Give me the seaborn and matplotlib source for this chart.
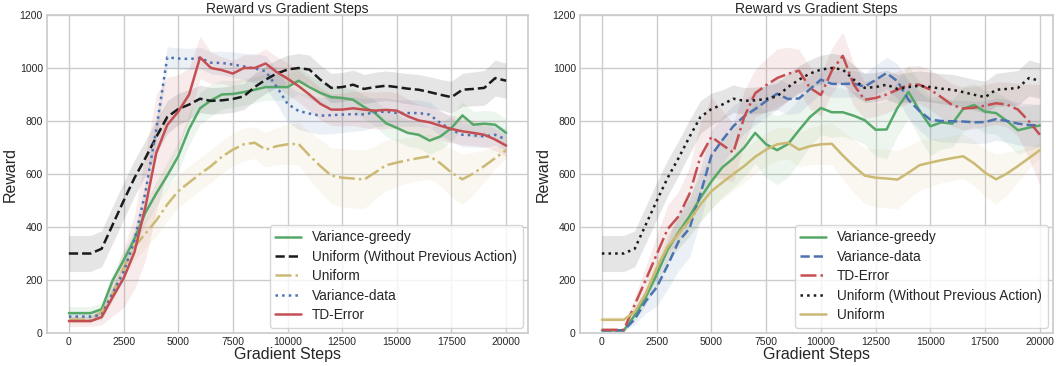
import numpy as np
import pandas as pd
import seaborn as sns
import matplotlib
matplotlib.use("Agg")
import matplotlib.pyplot as plt

sns.set(style="whitegrid", color_codes=True)
plt.rcParams['font.family'] = ['Liberation Sans', 'DejaVu Sans']

steps = list(range(0, 20001, 500))

# shared curves (same runs in both panels)
uniform_noprev = [300, 300, 300, 318, 408, 498, 585, 660, 740, 815, 845, 862, 884, 876, 878,
                  883, 893, 928, 956, 979, 994, 1000, 994, 956, 925, 928, 937, 921, 928, 933,
                  928, 922, 918, 909, 899, 890, 918, 921, 925, 962, 952]
uniform_noprev_sd = [68, 68, 68, 68, 70, 70, 68, 66, 64, 62, 60, 56, 52, 50, 50,
                     50, 50, 52, 52, 52, 54, 55, 55, 55, 55, 55, 55, 55, 56, 56,
                     56, 57, 58, 58, 58, 60, 62, 64, 66, 68, 66]
uniform = [50, 50, 50, 80, 148, 245, 325, 375, 425, 485, 535, 568, 600, 630, 665,
           692, 712, 718, 692, 705, 712, 714, 670, 630, 594, 586, 583, 579, 605, 633,
           643, 652, 660, 667, 640, 605, 580, 602, 630, 660, 690]
uniform_sd = [12, 12, 12, 20, 30, 40, 50, 55, 60, 62, 62, 62, 62, 62, 62,
              62, 62, 60, 65, 70, 75, 80, 90, 100, 105, 110, 110, 110, 100, 95,
              90, 85, 85, 85, 85, 90, 95, 80, 60, 40, 30]

# left panel
greedy_l = [75, 75, 75, 90, 198, 274, 355, 454, 527, 594, 667, 770, 848, 878, 900,
            902, 909, 918, 928, 928, 928, 952, 928, 906, 890, 887, 880, 853, 830, 792,
            774, 755, 748, 726, 742, 774, 821, 786, 790, 786, 755]
greedy_l_sd = [25, 25, 25, 25, 28, 30, 35, 40, 45, 50, 55, 60, 60, 60, 55,
               50, 50, 50, 50, 50, 50, 50, 45, 42, 40, 40, 42, 45, 48, 50,
               50, 50, 50, 50, 50, 50, 50, 50, 50, 50, 50]
vdata_l = [62, 62, 62, 68, 150, 230, 350, 530, 770, 1040, 1036, 1034, 1038, 1020, 1019,
           1013, 1006, 998, 988, 930, 865, 838, 828, 820, 822, 824, 826, 825, 833, 836,
           830, 830, 830, 824, 792, 767, 748, 746, 742, 748, 730]
vdata_l_sd = [15, 15, 15, 18, 25, 30, 40, 40, 40, 40, 40, 40, 40, 42, 45,
              48, 50, 55, 60, 65, 70, 70, 70, 70, 70, 68, 65, 60, 55, 52,
              50, 50, 50, 48, 46, 45, 45, 44, 42, 40, 40]
td_l = [45, 45, 45, 60, 135, 206, 305, 475, 680, 785, 835, 900, 1040, 1000, 992,
        979, 1000, 1000, 1017, 985, 960, 932, 900, 865, 843, 843, 848, 843, 839, 842,
        839, 818, 802, 795, 782, 770, 761, 755, 748, 730, 707]
td_l_sd = [20, 20, 20, 30, 70, 110, 140, 200, 220, 180, 140, 100, 80, 60, 50,
           50, 50, 50, 55, 58, 60, 60, 60, 60, 60, 62, 65, 68, 70, 70,
           68, 65, 60, 58, 55, 52, 50, 48, 45, 42, 40]

# right panel
greedy_r = [10, 10, 10, 67, 135, 220, 315, 380, 440, 510, 572, 625, 659, 700, 755,
            712, 690, 713, 765, 815, 849, 833, 833, 820, 803, 767, 768, 850, 910, 840,
            780, 795, 790, 846, 860, 835, 830, 800, 765, 775, 783]
greedy_r_sd = [5, 5, 5, 20, 30, 40, 50, 60, 75, 90, 105, 110, 110, 110, 115,
               125, 130, 125, 120, 110, 100, 95, 90, 90, 90, 100, 110, 105, 100, 105,
               110, 100, 90, 85, 80, 80, 80, 85, 90, 85, 80]
vdata_r = [10, 10, 10, 52, 120, 172, 255, 345, 395, 525, 670, 728, 780, 818, 845,
           875, 903, 883, 885, 920, 956, 940, 940, 941, 930, 955, 981, 950, 880, 838,
           805, 800, 799, 798, 795, 796, 807, 800, 790, 785, 783]
vdata_r_sd = [5, 5, 5, 20, 45, 70, 90, 110, 110, 100, 95, 90, 80, 65, 60,
              60, 60, 58, 55, 52, 50, 50, 50, 50, 50, 55, 60, 65, 70, 72,
              75, 78, 80, 80, 80, 80, 80, 80, 80, 80, 80]
td_r = [12, 12, 12, 107, 200, 296, 392, 440, 525, 665, 740, 710, 681, 815, 905,
        935, 962, 978, 990, 925, 898, 990, 1046, 937, 880, 887, 900, 918, 937, 937,
        918, 890, 860, 847, 850, 858, 867, 862, 843, 799, 748]
td_r_sd = [5, 5, 5, 30, 50, 70, 90, 95, 100, 130, 150, 130, 110, 100, 90,
           100, 110, 100, 80, 80, 80, 85, 90, 80, 70, 70, 70, 70, 70, 72,
           75, 78, 80, 80, 80, 80, 80, 85, 100, 140, 190]

left_series = [
    ("Variance-greedy", greedy_l, greedy_l_sd, "g", "-"),
    ("Uniform (Without Previous Action)", uniform_noprev, uniform_noprev_sd, "k", "--"),
    ("Uniform", uniform, uniform_sd, "y", "-."),
    ("Variance-data", vdata_l, vdata_l_sd, "b", ":"),
    ("TD-Error", td_l, td_l_sd, "r", "-"),
]
right_series = [
    ("Variance-greedy", greedy_r, greedy_r_sd, "g", "-"),
    ("Variance-data", vdata_r, vdata_r_sd, "b", "--"),
    ("TD-Error", td_r, td_r_sd, "r", "-."),
    ("Uniform (Without Previous Action)", uniform_noprev, uniform_noprev_sd, "k", ":"),
    ("Uniform", uniform, uniform_sd, "y", "-"),
]

fig = plt.figure(figsize=(10.56, 3.66), dpi=100)
ax1 = fig.add_axes([47 / 1056, 33 / 366, 481 / 1056, 318 / 366])
ax2 = fig.add_axes([580 / 1056, 33 / 366, 473 / 1056, 318 / 366])

for ax, series, xmax in [(ax1, left_series, 21000), (ax2, right_series, 20600)]:
    for name, vals, sd, col, ls in series:
        df = pd.DataFrame({"step": steps, "reward": vals})
        lo = np.array(vals) - np.array(sd)
        hi = np.array(vals) + np.array(sd)
        ax.fill_between(steps, lo, hi, color=col, alpha=0.11, linewidth=0)
        sns.lineplot(data=df, x="step", y="reward", color=col, linestyle=ls,
                     linewidth=1.8, label=name, ax=ax)
    ax.set_xlim(-1000, xmax)
    ax.set_ylim(0, 1200)
    ax.set_xticks(range(0, 20001, 2500))
    ax.set_yticks(range(0, 1201, 200))
    ax.tick_params(labelsize=7.5, length=0, pad=3)
    ax.set_title("Reward vs Gradient Steps", fontsize=10, pad=1.5)
    ax.set_xlabel("Gradient Steps", fontsize=11.5, labelpad=0)
    ax.set_ylabel("Reward", fontsize=11.5, labelpad=1)
    ax.legend(loc="lower right", fontsize=9.8, handlelength=1.9,
              borderaxespad=0.4, labelspacing=0.4)

fig.savefig("out.png", dpi=100)
